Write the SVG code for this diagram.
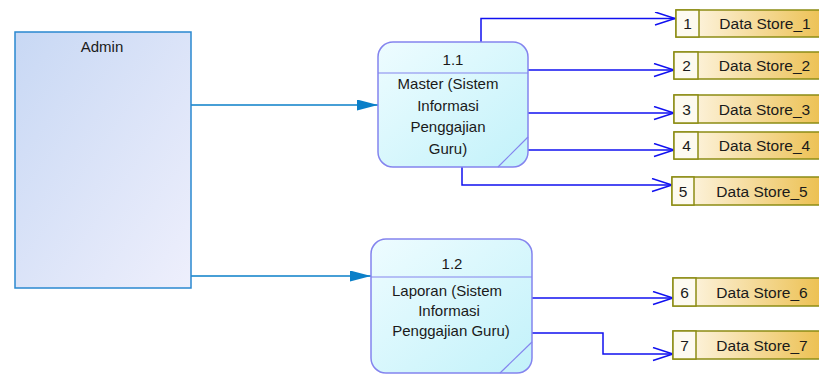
<svg xmlns="http://www.w3.org/2000/svg" width="819" height="374" viewBox="0 0 819 374">
<style>
text{font-family:"Liberation Sans",Arial,sans-serif;font-size:15px;fill:#1a1a1a}
.c{text-anchor:middle}
.s{font-size:15.5px}
.ent{fill:url(#gEnt);stroke:#2a88d0;stroke-width:1.5}
.proc{fill:url(#gProc);stroke:#8484ee;stroke-width:1.5}
.pl{stroke:#8484ee;stroke-width:1.2;fill:none}
.ds{fill:url(#gDs);stroke:#8c8c14;stroke-width:1.5}
.num{fill:#fdfaf0;stroke:#8c8c14;stroke-width:1.5}
.fa{fill:none;stroke:#0a7fc8;stroke-width:1.5}
.fb{fill:none;stroke:#1010f0;stroke-width:1.5}
</style>
<defs>
<linearGradient id="gEnt" x1="0" y1="0" x2="1" y2="1">
<stop offset="0" stop-color="#c8d8f4"/><stop offset="1" stop-color="#eeeffc"/>
</linearGradient>
<linearGradient id="gProc" x1="0" y1="0" x2="1" y2="1">
<stop offset="0" stop-color="#eefcff"/><stop offset="1" stop-color="#c2f2fa"/>
</linearGradient>
<linearGradient id="gDs" x1="0" y1="0" x2="1" y2="0">
<stop offset="0" stop-color="#fffaf0"/><stop offset="1" stop-color="#ecc050"/>
</linearGradient>
<marker id="fill" markerUnits="userSpaceOnUse" markerWidth="22" markerHeight="12" refX="21" refY="5.5" orient="auto">
<path d="M0,0 L21,5.5 L0,11 z" fill="#0a7fc8"/>
</marker>
<marker id="open" markerUnits="userSpaceOnUse" markerWidth="24" markerHeight="16" refX="21" refY="7" orient="auto">
<path d="M1,0.5 L21,7 L1,13.5" fill="none" stroke="#1010f0" stroke-width="1.5"/>
</marker>
</defs>

<g id="connectors">
<path class="fa" d="M191,105 H378" marker-end="url(#fill)"/>
<path class="fa" d="M191,276 H371" marker-end="url(#fill)"/>
<path class="fb" d="M481,42 V18.5 H675" marker-end="url(#open)"/>
<path class="fb" d="M528,70 H674" marker-end="url(#open)"/>
<path class="fb" d="M528,113 H674" marker-end="url(#open)"/>
<path class="fb" d="M528,150 H674" marker-end="url(#open)"/>
<path class="fb" d="M462,167 V185 H672" marker-end="url(#open)"/>
<path class="fb" d="M532,298 H673" marker-end="url(#open)"/>
<path class="fb" d="M532,333 H603 V354 H673" marker-end="url(#open)"/>
</g>

<g id="admin">
<rect class="ent" x="15" y="32" width="176" height="256"/>
<text class="c" x="102" y="52">Admin</text>
</g>

<g id="p1_1">
<rect class="proc" x="378" y="42" width="150" height="125" rx="15"/>
<line class="pl" x1="378" y1="73" x2="528" y2="73"/>
<line class="pl" x1="498" y1="167" x2="528" y2="137"/>
<text class="c" x="453" y="65">1.1</text>
<text class="c" x="448" y="89">Master (Sistem</text>
<text class="c" x="448" y="111">Informasi</text>
<text class="c" x="448" y="132">Penggajian</text>
<text class="c" x="448" y="154">Guru)</text>
</g>

<g id="p1_2">
<rect class="proc" x="371" y="239" width="161" height="134" rx="15"/>
<line class="pl" x1="371" y1="277" x2="532" y2="277"/>
<line class="pl" x1="500" y1="373" x2="532" y2="342"/>
<text class="c" x="452" y="269">1.2</text>
<text class="c" x="447" y="296">Laporan (Sistem</text>
<text class="c" x="449" y="316">Informasi</text>
<text class="c" x="451" y="336">Penggajian Guru)</text>
</g>

<g id="ds1">
<rect class="ds" x="676" y="10" width="150" height="27"/>
<rect class="num" x="676" y="10" width="23" height="27"/>
<text class="c s" x="687.5" y="29">1</text>
<text class="c s" x="765" y="29">Data Store_1</text>
</g>
<g id="ds2">
<rect class="ds" x="674" y="52" width="150" height="27"/>
<rect class="num" x="674" y="52" width="24" height="27"/>
<text class="c s" x="686.5" y="71">2</text>
<text class="c s" x="764.5" y="71">Data Store_2</text>
</g>
<g id="ds3">
<rect class="ds" x="674" y="95" width="150" height="28"/>
<rect class="num" x="674" y="95" width="24" height="28"/>
<text class="c s" x="686.5" y="114.5">3</text>
<text class="c s" x="764.5" y="114.5">Data Store_3</text>
</g>
<g id="ds4">
<rect class="ds" x="674" y="132" width="150" height="27"/>
<rect class="num" x="674" y="132" width="24" height="27"/>
<text class="c s" x="686.5" y="151">4</text>
<text class="c s" x="764.5" y="151">Data Store_4</text>
</g>
<g id="ds5">
<rect class="ds" x="672" y="177" width="150" height="28"/>
<rect class="num" x="672" y="177" width="22" height="28"/>
<text class="c s" x="683" y="196.5">5</text>
<text class="c s" x="762" y="196.5">Data Store_5</text>
</g>
<g id="ds6">
<rect class="ds" x="673" y="278" width="150" height="28"/>
<rect class="num" x="673" y="278" width="23" height="28"/>
<text class="c s" x="684.5" y="297.5">6</text>
<text class="c s" x="762" y="297.5">Data Store_6</text>
</g>
<g id="ds7">
<rect class="ds" x="673" y="331" width="150" height="28"/>
<rect class="num" x="673" y="331" width="23" height="28"/>
<text class="c s" x="684.5" y="350.5">7</text>
<text class="c s" x="762" y="350.5">Data Store_7</text>
</g>
</svg>
